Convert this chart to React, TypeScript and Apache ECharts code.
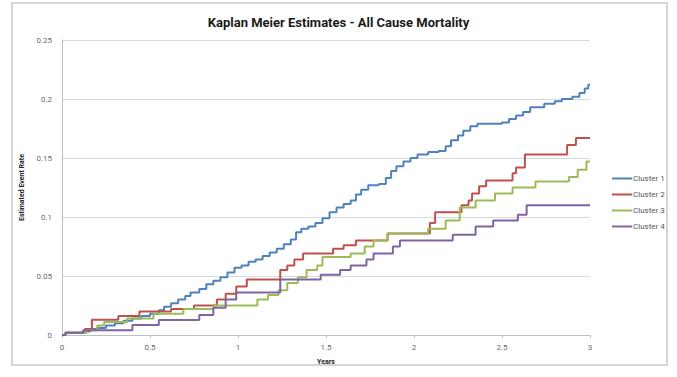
import React, { useEffect, useRef } from "react";
import * as echarts from "echarts";

const seriesNames = ["Cluster 1", "Cluster 2", "Cluster 3", "Cluster 4"];
const xTicks = [0, 0.5, 1, 1.5, 2, 2.5, 3];

const cluster1: [number, number][] = [
  [0, 0], [0.02, 0.002], [0.12, 0.003], [0.16, 0.005], [0.2, 0.006], [0.25, 0.008],
  [0.3, 0.01], [0.35, 0.012], [0.4, 0.014], [0.45, 0.016], [0.5, 0.018], [0.55, 0.021],
  [0.58, 0.024], [0.62, 0.027], [0.66, 0.03], [0.7, 0.033], [0.73, 0.036], [0.78, 0.039],
  [0.82, 0.043], [0.86, 0.046], [0.9, 0.049], [0.94, 0.053], [0.98, 0.057], [1.02, 0.059],
  [1.06, 0.062], [1.1, 0.064], [1.14, 0.067], [1.18, 0.07], [1.22, 0.073], [1.26, 0.077],
  [1.3, 0.081], [1.33, 0.087], [1.36, 0.09], [1.4, 0.092], [1.44, 0.095], [1.48, 0.099],
  [1.52, 0.104], [1.56, 0.108], [1.6, 0.111], [1.64, 0.114], [1.67, 0.119], [1.7, 0.123],
  [1.74, 0.127], [1.8, 0.128], [1.84, 0.133], [1.87, 0.139], [1.9, 0.143], [1.94, 0.147],
  [1.98, 0.15], [2.02, 0.153], [2.08, 0.155], [2.14, 0.156], [2.18, 0.16], [2.21, 0.165],
  [2.25, 0.169], [2.28, 0.173], [2.32, 0.177], [2.36, 0.179], [2.5, 0.18], [2.54, 0.183],
  [2.58, 0.186], [2.62, 0.189], [2.66, 0.193], [2.74, 0.196], [2.8, 0.198], [2.84, 0.2],
  [2.9, 0.202], [2.94, 0.205], [2.97, 0.209], [2.99, 0.212], [3.0, 0.212],
];

const cluster2: [number, number][] = [
  [0, 0], [0.02, 0.002], [0.13, 0.005], [0.17, 0.013], [0.32, 0.016], [0.44, 0.02],
  [0.62, 0.022], [0.75, 0.025], [0.88, 0.03], [0.93, 0.035], [0.99, 0.041], [1.05, 0.047],
  [1.24, 0.055], [1.28, 0.059], [1.32, 0.064], [1.37, 0.069], [1.54, 0.073], [1.6, 0.076],
  [1.67, 0.08], [1.85, 0.086], [2.09, 0.095], [2.12, 0.104], [2.27, 0.11], [2.31, 0.114],
  [2.33, 0.12], [2.37, 0.126], [2.41, 0.131], [2.56, 0.137], [2.58, 0.142], [2.63, 0.153],
  [2.87, 0.161], [2.92, 0.167], [3.0, 0.167],
];

const cluster3: [number, number][] = [
  [0, 0], [0.02, 0.002], [0.14, 0.004], [0.2, 0.008], [0.24, 0.011], [0.37, 0.014],
  [0.52, 0.018], [0.69, 0.022], [0.86, 0.025], [1.11, 0.03], [1.17, 0.034], [1.23, 0.038],
  [1.28, 0.044], [1.34, 0.049], [1.39, 0.055], [1.45, 0.059], [1.48, 0.066], [1.64, 0.069],
  [1.72, 0.075], [1.77, 0.08], [1.85, 0.086], [2.08, 0.09], [2.18, 0.097], [2.26, 0.108],
  [2.35, 0.114], [2.46, 0.12], [2.56, 0.125], [2.69, 0.13], [2.88, 0.134], [2.93, 0.14],
  [2.98, 0.147], [3.0, 0.147],
];

const cluster4: [number, number][] = [
  [0, 0], [0.02, 0.002], [0.12, 0.004], [0.4, 0.0085], [0.55, 0.0127], [0.78, 0.017],
  [0.86, 0.023], [0.93, 0.03], [0.99, 0.036], [1.24, 0.047], [1.47, 0.051], [1.58, 0.055],
  [1.64, 0.059], [1.73, 0.064], [1.77, 0.069], [1.88, 0.075], [1.92, 0.08], [2.22, 0.085],
  [2.35, 0.092], [2.45, 0.097], [2.59, 0.102], [2.64, 0.11], [3.0, 0.11],
];

const seriesData = [cluster1, cluster2, cluster3, cluster4];
const colors = ["#4F81BD", "#C0504D", "#9BBB59", "#8064A2"];

export default function App() {
  const ref = useRef<HTMLDivElement>(null);
  useEffect(() => {
    if (!ref.current) return;
    const chart = echarts.init(ref.current, undefined, { renderer: "svg" });
    const font = "Roboto, 'Liberation Sans', sans-serif";
    chart.setOption({
      animation: false,
      backgroundColor: "#ffffff",
      textStyle: { fontFamily: font },
      title: {
        text: "Kaplan Meier Estimates - All Cause Mortality",
        left: "center",
        top: 11,
        textStyle: { fontSize: 13, fontWeight: "bold", color: "#1a1a1a", fontFamily: font },
      },
      graphic: [
        {
          type: "rect",
          shape: { x: 12, y: 3, width: 655, height: 362 },
          style: { fill: "none", stroke: "#C8C8C8", lineWidth: 1.5 },
          silent: true,
          z: -1,
        },
      ],
      legend: {
        orient: "vertical",
        left: 607,
        top: 168,
        icon: "rect",
        itemWidth: 20,
        itemHeight: 2,
        itemGap: 5,
        textStyle: { fontSize: 8, color: "#595959", padding: [0, 0, 0, -4], lineHeight: 11 },
        data: seriesNames,
      },
      grid: { left: 62, right: 87, top: 40, bottom: 42 },
      xAxis: {
        type: "value",
        min: 0,
        max: 3,
        interval: 0.5,
        name: "Years",
        nameLocation: "middle",
        nameGap: 23,
        nameTextStyle: { fontSize: 7, fontWeight: "bold", color: "#262626" },
        axisLine: { show: true, lineStyle: { color: "#BFBFBF", width: 1 } },
        axisTick: { show: true, length: 3, lineStyle: { color: "#BFBFBF" } },
        axisLabel: {
          fontSize: 8,
          color: "#6b6b6b",
          margin: 8,
          formatter: (v: number) => String(xTicks.find((t) => Math.abs(t - v) < 1e-6) ?? v),
        },
        splitLine: { show: false },
      },
      yAxis: {
        type: "value",
        min: 0,
        max: 0.25,
        interval: 0.05,
        name: "Estimated Event Rate",
        nameLocation: "middle",
        nameGap: 31,
        nameTextStyle: { fontSize: 7, fontWeight: "bold", color: "#262626" },
        axisLine: { show: true, lineStyle: { color: "#BFBFBF", width: 1 } },
        axisTick: { show: false },
        axisLabel: {
          fontSize: 8,
          color: "#6b6b6b",
          margin: 10,
          formatter: (v: number) => String(+v.toFixed(2)),
        },
        splitLine: { show: true, lineStyle: { color: "#D9D9D9", width: 1 } },
      },
      series: seriesNames.map((name, i) => ({
        name,
        type: "line",
        step: "end",
        data: seriesData[i],
        symbol: "none",
        showSymbol: false,
        lineStyle: { color: colors[i], width: 2 },
        itemStyle: { color: colors[i] },
      })),
    });
    return () => chart.dispose();
  }, []);
  return (
    <div
      ref={ref}
      style={{ position: "fixed", left: 0, top: 0, width: 677, height: 377 }}
    />
  );
}
